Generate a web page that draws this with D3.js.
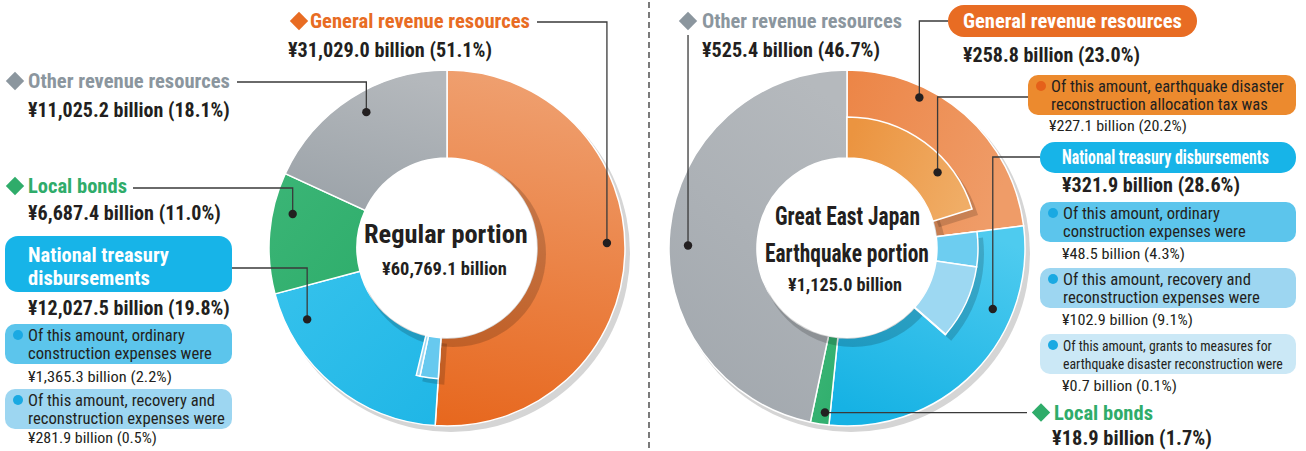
<!DOCTYPE html>
<html>
<head>
<meta charset="utf-8">
<script src="https://cdn.jsdelivr.net/npm/d3@7"></script>
<style>
body { margin: 0; background: #fff; }
text { font-family: 'Liberation Sans Narrow', 'Roboto Condensed', 'DejaVu Sans Condensed', Roboto, sans-serif; }
</style>
</head>
<body>
<svg id="chart" width="1306" height="451"></svg>
<script>
// ---- data ----
var categories = ["General revenue resources", "National treasury disbursements", "Local bonds", "Other revenue resources"];
var regularValues = [31029.0, 12027.5, 6687.4, 11025.2];
var regularPct = ["51.1%", "19.8%", "11.0%", "18.1%"];
var regularTreasuryParts = [1365.3, 281.9];
var regularTreasuryPct = ["2.2%", "0.5%"];
var quakeValues = [258.8, 321.9, 18.9, 525.4];
var quakePct = ["23.0%", "28.6%", "1.7%", "46.7%"];
var quakeGeneralParts = [227.1];
var quakeGeneralPct = ["20.2%"];
var quakeTreasuryParts = [48.5, 102.9, 0.7];
var quakeTreasuryPct = ["4.3%", "9.1%", "0.1%"];
var regularNotes = [["Of this amount, ordinary", "construction expenses were"],
                    ["Of this amount, recovery and", "reconstruction expenses were"]];
var quakeGeneralNotes = [["Of this amount, earthquake disaster", "reconstruction allocation tax was"]];
var quakeNotes = [["Of this amount, ordinary", "construction expenses were"],
                  ["Of this amount, recovery and", "reconstruction expenses were"],
                  ["Of this amount, grants to measures for", "earthquake disaster reconstruction were"]];

var fmt = d3.format(",.1f");
function money(v, p) { return "\u00a5" + fmt(v) + " billion" + (p ? " (" + p + ")" : ""); }

var svg = d3.select("#chart");
var defs = svg.append("defs");
var R0 = 90, R1 = 178, RS = 131;
var ink = "#231f20";

function grad(id, c1, c2, x1, y1, x2, y2) {
  var g = defs.append("linearGradient").attr("id", id)
    .attr("x1", x1).attr("y1", y1).attr("x2", x2).attr("y2", y2);
  g.append("stop").attr("offset", "0%").attr("stop-color", c1);
  g.append("stop").attr("offset", "100%").attr("stop-color", c2);
}
grad("gOrangeL", "#efa070", "#e7681f", "30%", "0%", "20%", "100%");
grad("gBlueL", "#36c2ec", "#1fb6e6", "0%", "0%", "100%", "100%");
grad("gGreen", "#3bb576", "#2fae6c", "0%", "0%", "100%", "100%");
grad("gGrayL", "#b4b8bc", "#9ca3a9", "60%", "0%", "30%", "100%");
grad("gOrangeR", "#ec8546", "#ef9c68", "0%", "0%", "100%", "40%");
grad("gBlueR", "#4ecbef", "#16b2e4", "70%", "0%", "30%", "100%");
grad("gGrayR", "#b5b9bd", "#a2a8ae", "70%", "0%", "30%", "100%");
grad("gOrangeSub", "#eb9440", "#f0ad66", "0%", "30%", "100%", "60%");

function donut(cx, cy, values, fills) {
  var g = svg.append("g").attr("transform", "translate(" + cx + "," + cy + ")");
  var total = d3.sum(values);
  var ang = d3.scaleLinear().domain([0, total]).range([0, 2 * Math.PI]);
  var pie = d3.pie().sort(null).value(function(d) { return d; })(values);
  var arc = d3.arc().innerRadius(R0).outerRadius(R1);
  g.append("circle").attr("cx", 4).attr("cy", 5).attr("r", R1 + 1).attr("fill", "#d5d5d5");
  g.selectAll("path.seg").data(pie).enter().append("path").attr("class", "seg")
    .attr("d", arc).attr("fill", function(d, i) { return fills[i]; })
    .attr("stroke", "#fff").attr("stroke-width", 1.5);
  g.append("circle").attr("cx", 6).attr("cy", 6).attr("r", R0 + 3).attr("fill", "#000").attr("opacity", 0.17);
  return { g: g, pie: pie, ang: ang, total: total, cx: cx, cy: cy };
}

function subArcs(d, segIndex, parts, fills) {
  var acc = d.pie[segIndex].startAngle;
  var arcs = parts.map(function(v, i) {
    var a = { startAngle: acc, endAngle: acc + d.ang(v), fill: fills[i] };
    acc = a.endAngle;
    return a;
  });
  var sa = d3.arc().innerRadius(R0).outerRadius(RS);
  d.g.selectAll(null).data(arcs).enter().append("path")
    .attr("d", sa).attr("transform", "translate(6,6)").attr("fill", "#000").attr("opacity", 0.16);
  return { arcs: arcs, draw: function() {
    d.g.selectAll(null).data(arcs).enter().append("path")
      .attr("d", sa).attr("fill", function(a) { return a.fill; })
      .attr("stroke", "#fff").attr("stroke-width", 1.5);
  } };
}

function hole(d) {
  d.g.append("circle").attr("r", R0).attr("fill", "#fff");
}

// point on an angular span at fraction t and radius r, in page coords
function at(d, a0, a1, t, r) {
  var a = a0 + (a1 - a0) * t;
  return [d.cx + r * Math.sin(a), d.cy - r * Math.cos(a)];
}

// text squeezed horizontally to width w (the original face is a condensed one)
function text(x, y, s, size, weight, fill, w, parent) {
  var t = (parent || svg).append("text").text(s)
    .attr("font-size", size).attr("font-weight", weight).attr("fill", fill);
  var k = 1;
  if (w) { var n = t.node().getComputedTextLength(); k = w / n; }
  t.attr("transform", "translate(" + x + "," + y + ") scale(" + k + ",1)");
  return t;
}
function diamond(x, y, s, fill) {
  svg.append("rect").attr("x", -s / 2).attr("y", -s / 2).attr("width", s).attr("height", s)
    .attr("fill", fill).attr("transform", "translate(" + x + "," + y + ") rotate(45)");
}
function leader(pts, dot) {
  svg.append("path").attr("d", d3.line()(pts)).attr("fill", "none").attr("stroke", "#3a3a3a").attr("stroke-width", 1.3);
  svg.append("circle").attr("cx", dot[0]).attr("cy", dot[1]).attr("r", 4.2).attr("fill", ink);
}
function box(x, y, w, h, fill, r) {
  svg.append("rect").attr("x", x).attr("y", y).attr("width", w).attr("height", h).attr("rx", r || 10).attr("fill", fill);
}
function note(x, y, w, fill, lines, widths, dotFill, size) {
  box(x, y, w, 40, fill, 10);
  svg.append("circle").attr("cx", x + 13).attr("cy", y + 11).attr("r", 5).attr("fill", dotFill);
  text(x + 23, y + 17, lines[0], size || 16.5, 400, ink, widths[0]);
  text(x + 23, y + 35, lines[1], size || 16.5, 400, ink, widths[1]);
}

var orange = "#e86c23", gray = "#8b969e", green = "#2fac6a", blue = "#17b4e8";
var BIG = 21, SMALL = 15;

// ---- left: regular portion ----
var L = donut(447, 248, regularValues, ["url(#gOrangeL)", "url(#gBlueL)", "url(#gGreen)", "url(#gGrayL)"]);
var Ls = subArcs(L, 1, regularTreasuryParts, ["#67c9ef", "#9ad7f2"]);
hole(L);
Ls.draw();
text(-83, -5, "Regular portion", 26, 700, ink, 164, L.g);
text(-65, 27, money(d3.sum(regularValues)), 18, 700, ink, 125, L.g);

// left labels
diamond(299, 21, 13, orange);
text(310, 28, categories[0], BIG, 700, orange, 220);
text(288, 57, money(regularValues[0], regularPct[0]), BIG, 700, ink, 204);
var p = at(L, L.pie[0].startAngle, L.pie[0].endAngle, 0.48, 160);
leader([[537, 22], [p[0], 22], p], p);

diamond(15, 81, 13, gray);
text(28, 88, categories[3], BIG, 700, gray, 202);
text(28, 117, money(regularValues[3], regularPct[3]), BIG, 700, ink, 202);
p = at(L, L.pie[3].startAngle, L.pie[3].endAngle, 0.53, 158);
leader([[237, 82], [p[0], 82], p], p);

diamond(15, 186, 13, green);
text(28, 193, categories[2], BIG, 700, green, 99);
text(28, 220, money(regularValues[2], regularPct[2]), BIG, 700, ink, 193);
p = at(L, L.pie[2].startAngle, L.pie[2].endAngle, 0.69, 158);
leader([[133, 188], [p[0], 188], p], p);

box(5, 236, 227, 56, blue, 13);
text(28, 262, "National treasury", BIG, 700, "#fff", 141);
text(28, 285, "disbursements", BIG, 700, "#fff", 122);
text(28, 315, money(regularValues[1], regularPct[1]), BIG, 700, ink, 202);
p = at(L, L.pie[1].startAngle, L.pie[1].endAngle, 0.83, 157);
leader([[232, 268], [p[0], 268], p], p);

note(5, 324, 227, "#5cc5ec", regularNotes[0], [157, 184], "#1aa9e2");
text(28, 382, money(regularTreasuryParts[0], regularTreasuryPct[0]), SMALL, 400, ink, 144);
note(5, 389, 227, "#9dd6f1", regularNotes[1], [187, 197], "#1aa9e2");
text(28, 443, money(regularTreasuryParts[1], regularTreasuryPct[1]), SMALL, 400, ink, 129);

// divider
svg.append("line").attr("x1", 649).attr("x2", 649).attr("y1", 2).attr("y2", 451)
  .attr("stroke", "#7a7a7a").attr("stroke-width", 2).attr("stroke-dasharray", "6,4");

// ---- right: Great East Japan Earthquake portion ----
var Rq = donut(847, 248, quakeValues, ["url(#gOrangeR)", "url(#gBlueR)", "url(#gGreen)", "url(#gGrayR)"]);
var Ro = subArcs(Rq, 0, quakeGeneralParts, ["url(#gOrangeSub)"]);
var Rb = subArcs(Rq, 1, quakeTreasuryParts, ["#6dcdf0", "#9dd8f2", "#c9e9f7"]);
hole(Rq);
Ro.draw();
Rb.draw();
text(-72, -23, "Great East Japan", 26, 700, ink, 145, Rq.g);
text(-82, 14, "Earthquake portion", 26, 700, ink, 164, Rq.g);
text(-59, 43, money(d3.sum(quakeValues)), 18, 700, ink, 114, Rq.g);

diamond(688, 21, 13, gray);
text(702, 28, categories[3], BIG, 700, gray, 200);
text(702, 57, money(quakeValues[3], quakePct[3]), BIG, 700, ink, 178);
p = at(Rq, Rq.pie[3].startAngle, Rq.pie[3].endAngle, 0.47, 159);
leader([[p[0], 35], p], p);

box(948, 5, 249, 32, orange, 16);
text(963, 28, categories[0], BIG, 700, "#fff", 219);
text(963, 62, money(quakeValues[0], quakePct[0]), BIG, 700, ink, 177);
p = at(Rq, Rq.pie[0].startAngle, Rq.pie[0].endAngle, 0.31, 167);
leader([[948, 21], [p[0], 21], p], p);

note(1028, 75, 268, "#ec8a2e", quakeGeneralNotes[0], [233, 217], "#e5601a");
text(1049, 131, money(quakeGeneralParts[0], quakeGeneralPct[0]), SMALL, 400, ink, 138);
var oa = Ro.arcs[0];
p = at(Rq, oa.startAngle, oa.endAngle, 0.69, 118);
leader([[1028, 97], [p[0], 97], p], p);

box(1040, 142, 256, 31, blue, 15);
text(1062, 164, categories[1], BIG, 700, "#fff", 207);
text(1062, 192, money(quakeValues[1], quakePct[1]), BIG, 700, ink, 178);
p = at(Rq, Rq.pie[1].startAngle, Rq.pie[1].endAngle, 0.29, 158);
leader([[1040, 157], [p[0], 157], p], p);

note(1040, 202, 256, "#5cc5ec", quakeNotes[0], [157, 183], "#1aa9e2");
text(1062, 259, money(quakeTreasuryParts[0], quakeTreasuryPct[0]), SMALL, 400, ink, 123);
note(1040, 268, 256, "#9dd6f1", quakeNotes[1], [188, 197], "#1aa9e2");
text(1062, 325, money(quakeTreasuryParts[1], quakeTreasuryPct[1]), SMALL, 400, ink, 131);
note(1040, 334, 256, "#cbe8f6", quakeNotes[2], [209, 220], "#1aa9e2", 15.5);
text(1062, 391, money(quakeTreasuryParts[2], quakeTreasuryPct[2]), SMALL, 400, ink, 115);

p = at(Rq, Rq.pie[2].startAngle, Rq.pie[2].endAngle, 0.3, 166);
diamond(1041, p[1], 13, green);
text(1054, p[1] + 7, categories[2], BIG, 700, green, 99);
text(1052, 445, money(quakeValues[2], quakePct[2]), BIG, 700, ink, 160);
leader([[1027, p[1]], p], p);
</script>
</body>
</html>
